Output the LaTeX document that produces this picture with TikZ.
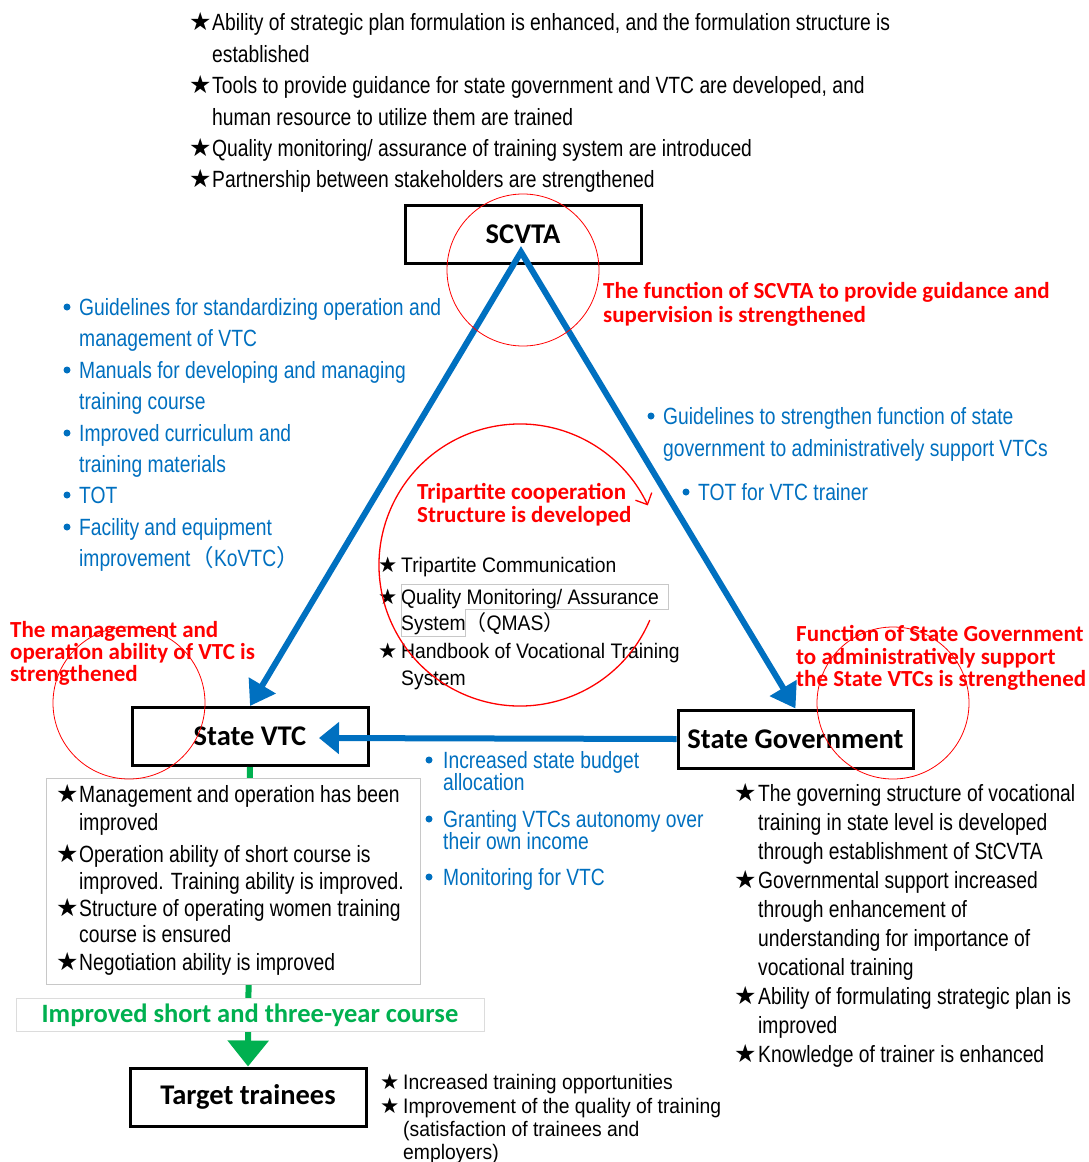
\documentclass[tikz,border=0pt]{standalone}
\usepackage{fontspec}
\setmainfont{Liberation Sans}
\newfontfamily\nfont[FakeStretch=0.82]{Liberation Sans}
\newfontfamily\mfont[FakeStretch=0.92]{Liberation Sans}
\newfontfamily\cfont{Carlito}
\newfontfamily\symfont{DejaVu Sans}
\newfontfamily\cjk{Noto Sans CJK SC}
\usetikzlibrary{arrows.meta}
\definecolor{myblue}{HTML}{0070C0}
\definecolor{myred}{HTML}{FF0000}
\definecolor{mygreen}{HTML}{00B050}
\definecolor{lgray}{HTML}{C8C8C8}
\tikzset{
  ntext/.style={anchor=base west, inner sep=0pt, font=\nfont\fontsize{23.5}{28}\selectfont},
  mtext/.style={anchor=base west, inner sep=0pt, font=\mfont\fontsize{21}{25}\selectfont},
  btext/.style={ntext, text=myblue},
  rtext/.style={anchor=base west, inner sep=0pt, font=\cfont\bfseries\fontsize{23}{27}\selectfont, text=myred},
  stk/.style={anchor=base west, inner sep=0pt, font=\symfont\fontsize{25}{28}\selectfont},
  sstk/.style={anchor=base west, inner sep=0pt, font=\symfont\fontsize{21.5}{24}\selectfont},
  bul/.style={circle, fill=myblue, inner sep=0pt, minimum size=7pt},
  mainbox/.style={draw, line width=3pt, fill=white, minimum width=236pt, minimum height=58pt, inner sep=0pt, font=\cfont\bfseries\fontsize{28.5}{32}\selectfont},
  thinbox/.style={draw=lgray, line width=0.8pt, fill=white, inner sep=0pt},
  barrow/.style={line width=6pt, myblue, line join=miter},
  redc/.style={myred, line width=0.8pt},
}
\begin{document}
\begin{tikzpicture}[x=1pt,y=1pt]
\fill[white] (0,0) rectangle (1088,-1162);
\useasboundingbox (0,0) rectangle (1088,-1162);

% ---------- top list ----------
\node[stk] (ts1) at (189,-30) {★};
\node[ntext] (t1) at (212,-30) {Ability of strategic plan formulation is enhanced, and the formulation structure is};
\node[ntext] (t1b) at (212,-62) {established};
\node[stk] (ts2) at (189,-93) {★};
\node[ntext] (t2) at (212,-93) {Tools to provide guidance for state government and VTC are developed, and};
\node[ntext] (t2b) at (212,-125) {human resource to utilize them are trained};
\node[stk] (ts3) at (189,-156) {★};
\node[ntext] (t3) at (212,-156) {Quality monitoring/ assurance of training system are introduced};
\node[stk] (ts4) at (189,-187) {★};
\node[ntext] (t4) at (212,-187) {Partnership between stakeholders are strengthened};

% ---------- green connector (behind boxes) ----------
\node[mainbox] (vtc) at (250,-736.5) {State VTC};
\node[mainbox] (tt) at (248,-1097) {Target trainees};
\draw[line width=6pt, mygreen, -{Triangle[length=26pt,width=40pt]}] (vtc.south) -- (tt.north);

% ---------- boxes ----------
\node[mainbox] (scvta) at (523,-234.5) {SCVTA};
\node[mainbox, minimum width=235pt] (gov) at (795.5,-739) {State Government};
\node[thinbox, minimum width=374pt, minimum height=206pt] (vbox) at (233,-881) {};
\node[thinbox, draw={rgb,255:red,220;green,220;blue,220}, minimum width=468pt, minimum height=33pt, font=\cfont\bfseries\fontsize{26.5}{30}\selectfont, text=mygreen] (glabel) at (250,-1015) {Improved short and three-year course};

% ---------- blue arrows ----------
\coordinate (apex) at (521,-252);
\coordinate (vtcin) at (319,-738);
\draw[barrow, {Triangle[length=24pt,width=30pt]}-{Triangle[length=24pt,width=30pt]}] (vtc.north) -- (apex) -- (gov.north);
\draw[barrow, -{Triangle[length=20pt,width=31pt]}] (gov.west) -- (vtcin);

% ---------- red labels ----------
\node[rtext] (r1) at (603,-298) {The function of SCVTA to provide guidance and};
\node[rtext] (r1b) at (603,-322) {supervision is strengthened};
\node[rtext] (r2) at (10,-637) {The management and};
\node[rtext] (r2b) at (10,-659) {operation ability of VTC is};
\node[rtext] (r2c) at (10,-681) {strengthened};
\node[rtext] (r3) at (796,-641) {Function of State Government};
\node[rtext] (r3b) at (796,-664) {to administratively support};
\node[rtext] (r3c) at (796,-686) {the State VTCs is strengthened};
\node[rtext] (r4) at (417,-499) {Tripartite cooperation};
\node[rtext] (r4b) at (417,-522) {Structure is developed};

% ---------- left blue list ----------
\node[bul] (lb1) at (67,-307) {};
\node[btext] (l1) at (79,-315) {Guidelines for standardizing operation and};
\node[btext] (l1b) at (79,-346) {management of VTC};
\node[bul] (lb2) at (67,-370) {};
\node[btext] (l2) at (79,-378) {Manuals for developing and managing};
\node[btext] (l2b) at (79,-409) {training course};
\node[bul] (lb3) at (67,-433) {};
\node[btext] (l3) at (79,-441) {Improved curriculum and};
\node[btext] (l3b) at (79,-472) {training materials};
\node[bul] (lb4) at (67,-495) {};
\node[btext] (l4) at (79,-503) {TOT};
\node[bul] (lb5) at (67,-527) {};
\node[btext] (l5) at (79,-535) {Facility and equipment};
\node[btext] (l5b) at (79,-566) {improvement{\cjk （}KoVTC{\cjk ）}};

% ---------- right blue list ----------
\node[bul] (rb1) at (651,-416) {};
\node[btext] (rl1) at (663,-424) {Guidelines to strengthen function of state};
\node[btext] (rl1b) at (663,-456) {government to administratively support VTCs};
\node[bul] (rb2) at (686,-492) {};
\node[btext] (rl2) at (698,-500) {TOT for VTC trainer};

% ---------- central list ----------
\node[sstk] (cs1) at (378,-572) {★};
\node[mtext] (c1) at (401,-572) {Tripartite Communication};
\node[sstk] (cs2) at (378,-604) {★};
\node[mtext] (c2) at (401,-604) {Quality Monitoring/ Assurance};
\node[mtext] (c2b) at (401,-630) {System{\cjk （}QMAS{\cjk ）}};
\node[sstk] (cs3) at (378,-658) {★};
\node[mtext] (c3) at (401,-658) {Handbook of Vocational Training};
\node[mtext] (c3b) at (401,-685) {System};
\draw[lgray, line width=0.8pt] (401,-584) -- (668,-584) -- (668,-609) -- (465,-609) -- (465,-636) -- (401,-636) -- cycle;

% ---------- middle blue list ----------
\node[bul] (mb1) at (429,-760) {};
\node[btext] (m1) at (443,-768) {Increased state budget};
\node[btext] (m1b) at (443,-790) {allocation};
\node[bul] (mb2) at (429,-819) {};
\node[btext] (m2) at (443,-827) {Granting VTCs autonomy over};
\node[btext] (m2b) at (443,-849) {their own income};
\node[bul] (mb3) at (429,-877) {};
\node[btext] (m3) at (443,-885) {Monitoring for VTC};

% ---------- VTC list ----------
\node[stk] (vs1) at (56,-802) {★};
\node[ntext] (v1) at (79,-802) {Management and operation has been};
\node[ntext] (v1b) at (79,-830) {improved};
\node[stk] (vs2) at (56,-862) {★};
\node[ntext] (v2) at (79,-862) {Operation ability of short course is};
\node[ntext] (v2b) at (79,-889) {improved. Training ability is improved.};
\node[stk] (vs3) at (56,-916) {★};
\node[ntext] (v3) at (79,-916) {Structure of operating women training};
\node[ntext] (v3b) at (79,-942) {course is ensured};
\node[stk] (vs4) at (56,-970) {★};
\node[ntext] (v4) at (79,-970) {Negotiation ability is improved};

% ---------- government list ----------
\node[stk] (gs1) at (734,-801) {★};
\node[ntext] (g1) at (758,-801) {The governing structure of vocational};
\node[ntext] (g1b) at (758,-830) {training in state level is developed};
\node[ntext] (g1c) at (758,-859) {through establishment of StCVTA};
\node[stk] (gs2) at (734,-888) {★};
\node[ntext] (g2) at (758,-888) {Governmental support increased};
\node[ntext] (g2b) at (758,-917) {through enhancement of};
\node[ntext] (g2c) at (758,-946) {understanding for importance of};
\node[ntext] (g2d) at (758,-975) {vocational training};
\node[stk] (gs3) at (734,-1004) {★};
\node[ntext] (g3) at (758,-1004) {Ability of formulating strategic plan is};
\node[ntext] (g3b) at (758,-1033) {improved};
\node[stk] (gs4) at (734,-1062) {★};
\node[ntext] (g4) at (758,-1062) {Knowledge of trainer is enhanced};

% ---------- target list ----------
\node[sstk] (ps1) at (380,-1089) {★};
\node[mtext] (p1) at (403,-1089) {Increased training opportunities};
\node[sstk] (ps2) at (380,-1113) {★};
\node[mtext] (p2) at (403,-1113) {Improvement of the quality of training};
\node[mtext] (p2b) at (403,-1136) {(satisfaction of trainees and};
\node[mtext] (p2c) at (403,-1159) {employers)};

% ---------- red circles ----------
\draw[redc] (523,-270) circle[radius=76];
\draw[redc] (129,-703) circle[radius=76];
\draw[redc] (893,-703) circle[radius=76];
\draw[myred, line width=1.3pt, -{Straight Barb[length=9pt,width=18pt]}] (520,-565) ++(-23:141) arc[start angle=-23, end angle=-335, radius=141];
\end{tikzpicture}
\end{document}
